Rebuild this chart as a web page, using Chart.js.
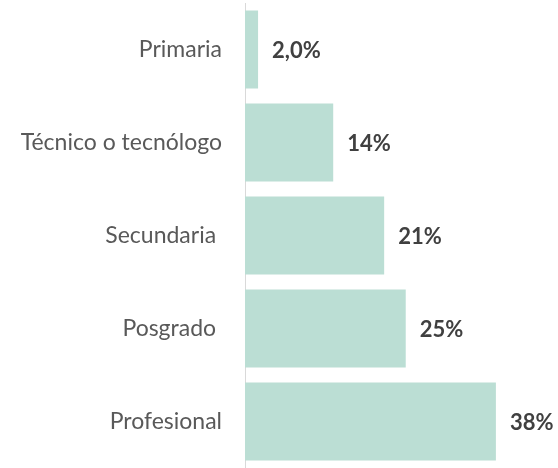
<!DOCTYPE html>
<html>
<head>
<meta charset="utf-8">
<script src="https://cdn.jsdelivr.net/npm/chart.js@4"></script>
<style>
  html, body { margin: 0; padding: 0; background: #fff; }
  canvas { display: block; }
</style>
</head>
<body>
<canvas id="bars" width="558" height="468"></canvas>
<script>
  var categories = ['Primaria', 'Técnico o tecnólogo', 'Secundaria ', 'Posgrado ', 'Profesional'];
  var values = [2.0, 13.5, 21.3, 24.6, 38.4];
  var valueLabels = ['2,0%', '14%', '21%', '25%', '38%'];

  var valueLabelPlugin = {
    id: 'valueLabels',
    afterDatasetsDraw: function (chart) {
      var ctx = chart.ctx;
      var meta = chart.getDatasetMeta(0);
      ctx.save();
      ctx.font = 'bold 22px Lato';
      ctx.fillStyle = '#404040';
      ctx.textAlign = 'left';
      ctx.textBaseline = 'middle';
      meta.data.forEach(function (bar, i) {
        ctx.fillText(valueLabels[i], bar.x + 14, bar.y + 1);
      });
      ctx.restore();
    }
  };

  new Chart(document.getElementById('bars').getContext('2d'), {
    type: 'bar',
    data: {
      labels: categories,
      datasets: [{
        data: values,
        backgroundColor: '#bbded4',
        borderWidth: 0,
        categoryPercentage: 0.84,
        barPercentage: 1
      }]
    },
    options: {
      responsive: false,
      indexAxis: 'y',
      animation: false,
      layout: { padding: { top: 3, bottom: 0, left: 0, right: 2 } },
      plugins: { legend: { display: false }, tooltip: { enabled: false } },
      scales: {
        x: { display: false, min: 0, max: 47.6 },
        y: {
          afterFit: function (s) { s.width = 245; s.paddingTop = 0; s.paddingBottom = 0; },
          grid: { display: false, drawTicks: false },
          border: { display: true, color: '#d9d9d9', width: 1 },
          ticks: { color: '#595959', padding: 23, font: { family: 'Lato', size: 23 } }
        }
      }
    },
    plugins: [valueLabelPlugin]
  });
</script>
</body>
</html>
